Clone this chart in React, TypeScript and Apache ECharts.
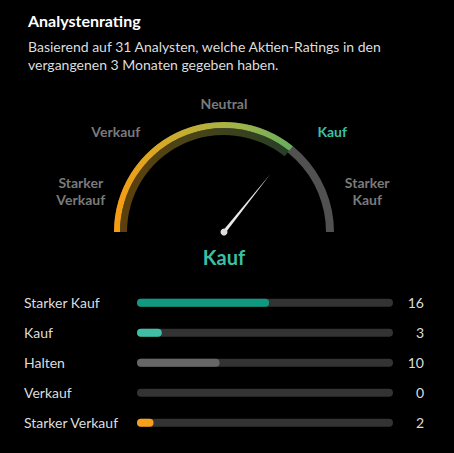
import { useEffect, useRef } from 'react';
import * as echarts from 'echarts';

// ─── Data ─────────────────────────────────────────────────────────────────────

const RATING_CATEGORIES = ['Starker Kauf', 'Kauf', 'Halten', 'Verkauf', 'Starker Verkauf'];
const RATING_COUNTS = [16, 3, 10, 0, 2];
const RATING_COLORS = ['#0f9a7f', '#3fc0a6', '#666666', '#666666', '#f7a01b'];

const GAUGE_LABELS = ['Starker\nVerkauf', 'Verkauf', 'Neutral', 'Kauf', 'Starker\nKauf'];
const GAUGE_SCORE = 3.86; // 1 = Starker Verkauf … 5 = Starker Kauf
const CURRENT_RATING = 'Kauf';

const TOTAL = RATING_COUNTS.reduce((a, b) => a + b, 0);

// ─── Layout ───────────────────────────────────────────────────────────────────

const FONT = 'Lato, "DejaVu Sans", sans-serif';
const CX = 224;
const CY = 232;
const TEAL = '#3dbfa4';

// label centres around the gauge (angle in degrees, distance from centre)
const LABEL_ANGLES = [164, 137, 90, 43, 16];
const LABEL_DIST = [149, 148, 129, 148, 149];

function buildOption(): echarts.EChartsOption {
  const brightGradient = new echarts.graphic.LinearGradient(0, 0, 1, 0, [
    { offset: 0, color: '#f89c10' },
    { offset: 0.35, color: '#cbac2c' },
    { offset: 0.7, color: '#a0b448' },
    { offset: 1, color: '#64ad5c' },
  ]);
  const dimGradient = new echarts.graphic.LinearGradient(0, 0, 1, 0, [
    { offset: 0, color: '#5e400b' },
    { offset: 0.4, color: '#4a4418' },
    { offset: 0.7, color: '#3a421f' },
    { offset: 1, color: '#263f28' },
  ]);

  const labelGraphics = GAUGE_LABELS.map((text, i) => {
    const a = (LABEL_ANGLES[i] * Math.PI) / 180;
    return {
      type: 'text' as const,
      x: CX + Math.cos(a) * LABEL_DIST[i],
      y: CY - Math.sin(a) * LABEL_DIST[i],
      silent: true,
      style: {
        text,
        fill: text === CURRENT_RATING ? TEAL : '#7a7a7a',
        font: `bold 14px ${FONT}`,
        align: 'center' as const,
        verticalAlign: 'middle' as const,
        lineHeight: 17,
      },
    };
  });

  return {
    animation: false,
    backgroundColor: '#000',
    title: [
      {
        text: 'Analystenrating',
        left: 23,
        top: 7,
        textStyle: { color: '#fff', fontSize: 16, fontWeight: 'bold', fontFamily: FONT },
      },
      {
        text: 'Basierend auf 31 Analysten, welche Aktien-Ratings in den\nvergangenen 3 Monaten gegeben haben.',
        left: 23,
        top: 32,
        textStyle: { color: '#dddddd', fontSize: 14, fontWeight: 'normal', fontFamily: FONT, lineHeight: 18.5 },
      },
    ],
    graphic: labelGraphics,
    grid: { left: 137, right: 61, top: 287.7, height: 150 },
    xAxis: { type: 'value', min: 0, max: TOTAL, show: false },
    yAxis: [
      {
        type: 'category',
        data: RATING_CATEGORIES,
        inverse: true,
        axisLine: { show: false },
        axisTick: { show: false },
        axisLabel: { align: 'left', margin: 113, color: '#dddddd', fontSize: 14, fontFamily: FONT },
      },
      {
        type: 'category',
        position: 'right',
        data: RATING_COUNTS.map(String),
        inverse: true,
        axisLine: { show: false },
        axisTick: { show: false },
        axisLabel: { align: 'right', margin: 31, color: '#dddddd', fontSize: 14, fontFamily: FONT },
      },
    ],
    series: [
      {
        type: 'gauge',
        center: [CX, CY],
        radius: 110,
        startAngle: 180,
        endAngle: 0,
        min: 1,
        max: 5,
        axisLine: { lineStyle: { width: 8, color: [[1, '#515151']] } },
        progress: { show: true, width: 6, itemStyle: { color: brightGradient } },
        splitLine: { show: false },
        axisTick: { show: false },
        axisLabel: { show: false },
        pointer: { show: false },
        anchor: { show: false },
        title: { show: false },
        detail: { show: false },
        data: [{ value: GAUGE_SCORE }],
      },
      {
        type: 'gauge',
        center: [CX, CY],
        radius: 104,
        startAngle: 180,
        endAngle: 0,
        min: 1,
        max: 5,
        axisLine: { show: false },
        progress: { show: true, width: 7, itemStyle: { color: dimGradient } },
        splitLine: { show: false },
        axisTick: { show: false },
        axisLabel: { show: false },
        pointer: { show: true, length: 74, width: 1.7, itemStyle: { color: '#e8e8e8' } },
        anchor: { show: true, showAbove: true, size: 7, itemStyle: { color: '#dddddd' } },
        title: { show: false },
        detail: {
          show: true,
          offsetCenter: [0, 25],
          formatter: () => CURRENT_RATING,
          color: TEAL,
          fontSize: 20,
          fontWeight: 'bold',
          fontFamily: FONT,
        },
        data: [{ value: GAUGE_SCORE }],
      },
      {
        type: 'bar',
        yAxisIndex: 0,
        barWidth: 8,
        showBackground: true,
        backgroundStyle: { color: '#333333', borderRadius: 4 },
        data: RATING_COUNTS.map((v, i) => ({
          value: v,
          itemStyle: { color: RATING_COLORS[i], borderRadius: 4 },
        })),
      },
    ],
  };
}

// ─── Component ────────────────────────────────────────────────────────────────

export default function App() {
  const containerRef = useRef<HTMLDivElement>(null);

  useEffect(() => {
    document.body.style.margin = '0';
    document.body.style.background = '#000';
    if (!containerRef.current) return;
    const chart = echarts.init(containerRef.current, null, { renderer: 'svg' });
    chart.setOption(buildOption());
    return () => chart.dispose();
  }, []);

  return (
    <div
      ref={containerRef}
      style={{ position: 'fixed', left: 0, top: 0, width: 454, height: 453, background: '#000' }}
    />
  );
}
